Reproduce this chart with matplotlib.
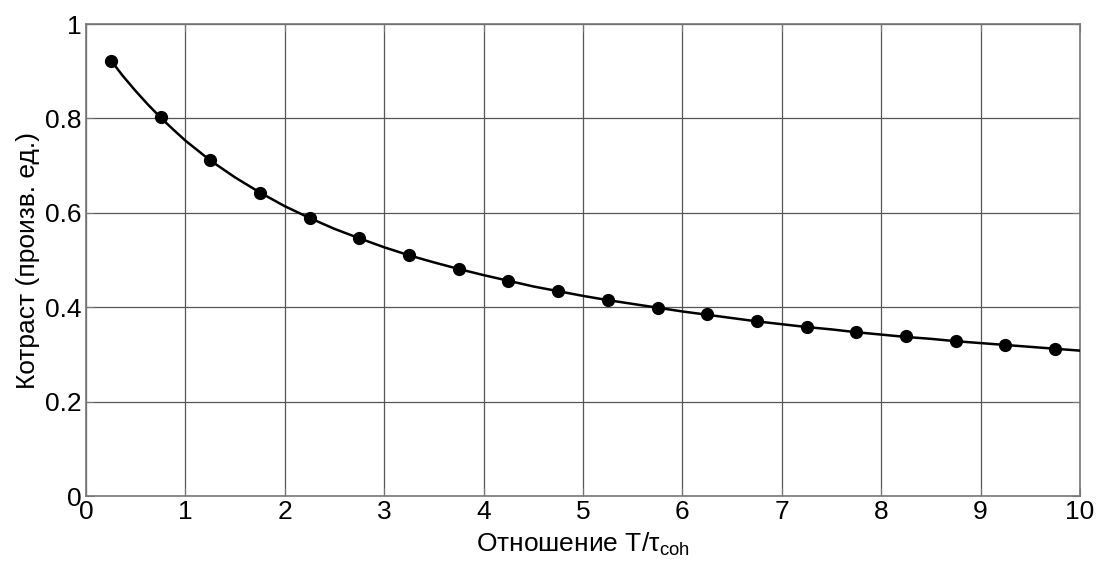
import matplotlib
matplotlib.use("Agg")
import matplotlib.pyplot as plt

plt.rcParams["font.family"] = ["Liberation Sans", "DejaVu Sans"]

# measured points
t_points = [0.25, 0.75, 1.25, 1.75, 2.25, 2.75, 3.25, 3.75, 4.25, 4.75,
            5.25, 5.75, 6.25, 6.75, 7.25, 7.75, 8.25, 8.75, 9.25, 9.75]
k_points = [0.922, 0.802, 0.711, 0.643, 0.589, 0.546, 0.511, 0.481, 0.456, 0.435,
            0.416, 0.399, 0.385, 0.371, 0.359, 0.348, 0.338, 0.329, 0.320, 0.312]

# smooth curve
t_curve = [0.25, 0.375, 0.5, 0.625, 0.75, 0.875, 1.0, 1.125, 1.25, 1.375, 1.5,
           1.75, 2.0, 2.25, 2.5, 2.75, 3.0, 3.25, 3.5, 3.75, 4.0,
           4.25, 4.5, 4.75, 5.0, 5.25, 5.5, 5.75, 6.0, 6.25, 6.5,
           6.75, 7.0, 7.25, 7.5, 7.75, 8.0, 8.25, 8.5, 8.75, 9.0,
           9.25, 9.5, 9.75, 10.0]
k_curve = [0.923, 0.889, 0.858, 0.829, 0.802, 0.777, 0.753, 0.732, 0.711, 0.693, 0.675,
           0.643, 0.614, 0.589, 0.566, 0.546, 0.527, 0.510, 0.495, 0.481, 0.468,
           0.456, 0.444, 0.434, 0.424, 0.415, 0.407, 0.399, 0.391, 0.384, 0.377,
           0.370, 0.364, 0.358, 0.353, 0.347, 0.342, 0.337, 0.333, 0.328, 0.324,
           0.320, 0.316, 0.312, 0.308]

fig = plt.figure(figsize=(10.98, 5.65), dpi=100)
ax = fig.add_axes([0.0783, 0.1221, 0.9053, 0.8354])

ax.plot(t_curve, k_curve, color="black", linewidth=1.8, zorder=3)
ax.plot(t_points, k_points, "o", color="black", markersize=8.5, zorder=4)

ax.set_xlim(0, 10)
ax.set_ylim(0, 1)
ax.set_xticks(range(0, 11))
ax.set_yticks([0, 0.2, 0.4, 0.6, 0.8, 1])
ax.set_yticklabels(["0", "0.2", "0.4", "0.6", "0.8", "1"])
ax.grid(True, color="#555555", linewidth=0.9)
ax.set_axisbelow(True)
ax.tick_params(direction="in", top=True, right=True, length=6,
               color="#777777", labelsize=19, pad=3)
for s in ax.spines.values():
    s.set_color("#777777")
    s.set_linewidth(1.2)

ax.set_xlabel(r"Отношение T/$\mathregular{\tau_{coh}}$", fontsize=19, labelpad=5)
ax.set_ylabel("Котраст (произв. ед.)", fontsize=19, labelpad=4)

fig.savefig("out.png", dpi=100)
